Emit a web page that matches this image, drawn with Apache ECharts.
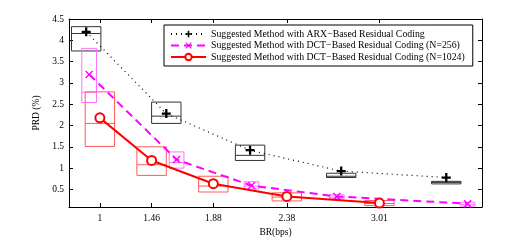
<!DOCTYPE html>
<html>
<head>
<meta charset="utf-8">
<script src="https://cdn.jsdelivr.net/npm/echarts@6/dist/echarts.min.js"></script>
<style>html,body{margin:0;padding:0;background:#fff;}#c{width:532px;height:249px;}</style>
</head>
<body>
<div id="c"></div>
<script>
// ---- data ----
const seriesNames = [
  'Suggested Method with ARX\u2212Based Residual Coding',
  'Suggested Method with DCT\u2212Based Residual Coding (N=256)',
  'Suggested Method with DCT\u2212Based Residual Coding (N=1024)'
];
const xTickPos = [1.108, 1.46, 1.88, 2.38, 3.01];
const xTickLabels = ['1', '1.46', '1.88', '2.38', '3.01'];
const yTicks = [0.5, 1, 1.5, 2, 2.5, 3, 3.5, 4, 4.5];

const arxX = [1.015, 1.56, 2.13, 2.75, 3.465];
const arxY = [4.20, 2.28, 1.42, 0.93, 0.78];
const arxLow = [3.75, 2.05, 1.18, 0.78, 0.63];
const arxMed = [4.16, 2.22, 1.30, 0.81, 0.665];
const arxHigh = [4.32, 2.55, 1.54, 0.88, 0.69];

const d256X = [1.035, 1.63, 2.14, 2.72, 3.61];
const d256Y = [3.20, 1.20, 0.59, 0.335, 0.165];
const d256Low = [2.54, 1.00, 0.51, 0.28, 0.11];
const d256Med = [2.78, 1.13, 0.58, 0.32, 0.15];
const d256High = [3.81, 1.38, 0.68, 0.375, 0.20];

const d1024X = [1.108, 1.46, 1.88, 2.38, 3.01];
const d1024Y = [2.18, 1.18, 0.634, 0.335, 0.18];
const d1024Low = [1.51, 0.83, 0.44, 0.23, 0.12];
const d1024Med = [2.05, 1.08, 0.58, 0.32, 0.17];
const d1024High = [2.79, 1.50, 0.81, 0.42, 0.24];

// ---- build ----
const zip = (xs, ys) => xs.map((x, i) => [x, ys[i]]);
const boxRows = (xs, lo, me, hi) => xs.map((x, i) => [x, lo[i], me[i], hi[i]]);
const FONT = 'Liberation Serif';

function boxSeries(name, rows, color, boxW) {
  return {
    type: 'custom', name: name, silent: true, z: 1,
    xAxisIndex: 0, yAxisIndex: 0,
    data: rows,
    encode: { x: 0, y: [1, 2, 3] },
    renderItem: function (params, api) {
      const x = api.value(0);
      const pLo = api.coord([x, api.value(1)]);
      const pMe = api.coord([x, api.value(2)]);
      const pHi = api.coord([x, api.value(3)]);
      const w = api.size([boxW, 0])[0];
      return {
        type: 'group',
        children: [
          { type: 'rect', shape: { x: pLo[0] - w / 2, y: pHi[1], width: w, height: pLo[1] - pHi[1] },
            style: { fill: 'none', stroke: color, lineWidth: 1 } },
          { type: 'line', shape: { x1: pMe[0] - w / 2, y1: pMe[1], x2: pMe[0] + w / 2, y2: pMe[1] },
            style: { stroke: color, lineWidth: 1 } }
        ]
      };
    }
  };
}

const plusPath = 'path://M3,0H5V3H8V5H5V8H3V5H0V3H3Z';
const xPath = 'path://M0,1L1,0L4,3L7,0L8,1L5,4L8,7L7,8L4,5L1,8L0,7L3,4Z';

const chart = echarts.init(document.getElementById('c'), null, { renderer: 'canvas' });
chart.setOption({
  animation: false,
  backgroundColor: '#fff',
  textStyle: { fontFamily: FONT },
  grid: { left: 69, right: 50, top: 19, bottom: 42, containLabel: false },
  legend: {
    data: seriesNames,
    orient: 'vertical',
    left: 164, top: 25,
    padding: [4, 8, 4, 6],
    itemGap: 1.5,
    itemWidth: 35, itemHeight: 8,
    borderColor: '#000', borderWidth: 1,
    backgroundColor: '#fff',
    textStyle: { fontFamily: FONT, fontSize: 9.8, color: '#000' }
  },
  xAxis: [{
    type: 'value', min: 0.898, max: 3.708,
    axisLine: { show: true, lineStyle: { color: '#000', width: 1 } },
    axisTick: { show: true, inside: true, length: 4, customValues: xTickPos, lineStyle: { color: '#000' } },
    axisLabel: { customValues: xTickPos, color: '#000', fontFamily: FONT, fontSize: 9.5, margin: 6,
      formatter: function (v) { const i = xTickPos.indexOf(v); return i >= 0 ? xTickLabels[i] : ''; } },
    splitLine: { show: false },
    name: 'BR(bps)', nameLocation: 'middle', nameGap: 13,
    nameTextStyle: { color: '#000', fontFamily: FONT, fontSize: 9.5 }
  }, {
    type: 'value', min: 0.898, max: 3.708, position: 'top',
    axisLine: { show: true, lineStyle: { color: '#000', width: 1 } },
    axisTick: { show: true, inside: true, length: 4, customValues: xTickPos, lineStyle: { color: '#000' } },
    axisLabel: { show: false }, splitLine: { show: false }
  }],
  yAxis: [{
    type: 'value', min: 0.088, max: 4.5,
    axisLine: { show: true, lineStyle: { color: '#000', width: 1 } },
    axisTick: { show: true, inside: true, length: 4, customValues: yTicks, lineStyle: { color: '#000' } },
    axisLabel: { customValues: yTicks, color: '#000', fontFamily: FONT, fontSize: 9.5, margin: 5 },
    splitLine: { show: false },
    name: 'PRD (%)', nameLocation: 'middle', nameGap: 15, nameRotate: 90,
    nameTextStyle: { color: '#000', fontFamily: FONT, fontSize: 9.5 }
  }, {
    type: 'value', min: 0.088, max: 4.5, position: 'right',
    axisLine: { show: true, lineStyle: { color: '#000', width: 1 } },
    axisTick: { show: true, inside: true, length: 4, customValues: yTicks, lineStyle: { color: '#000' } },
    axisLabel: { show: false }, splitLine: { show: false }
  }],
  series: [
    boxSeries('box1', boxRows(arxX, arxLow, arxMed, arxHigh), '#333', 0.2),
    boxSeries('box2', boxRows(d256X, d256Low, d256Med, d256High), '#ff70ff', 0.1),
    boxSeries('box3', boxRows(d1024X, d1024Low, d1024Med, d1024High), '#ff5a5a', 0.2),
    {
      type: 'line', name: seriesNames[0], z: 3, data: zip(arxX, arxY),
      symbol: plusPath, symbolSize: 9,
      itemStyle: { color: '#000' },
      lineStyle: { color: '#000', width: 1.2, type: [1, 4] }
    },
    {
      type: 'line', name: seriesNames[1], z: 3, data: zip(d256X, d256Y),
      symbol: xPath, symbolSize: 8,
      itemStyle: { color: '#ff00ff' },
      lineStyle: { color: '#ff00ff', width: 2, type: [8, 5] }
    },
    {
      type: 'line', name: seriesNames[2], z: 4, data: zip(d1024X, d1024Y),
      symbol: 'emptyCircle', symbolSize: 9,
      itemStyle: { color: '#ff0000', borderColor: '#ff0000', borderWidth: 1.6 },
      lineStyle: { color: '#ff0000', width: 2 }
    }
  ]
});
</script>
</body>
</html>
